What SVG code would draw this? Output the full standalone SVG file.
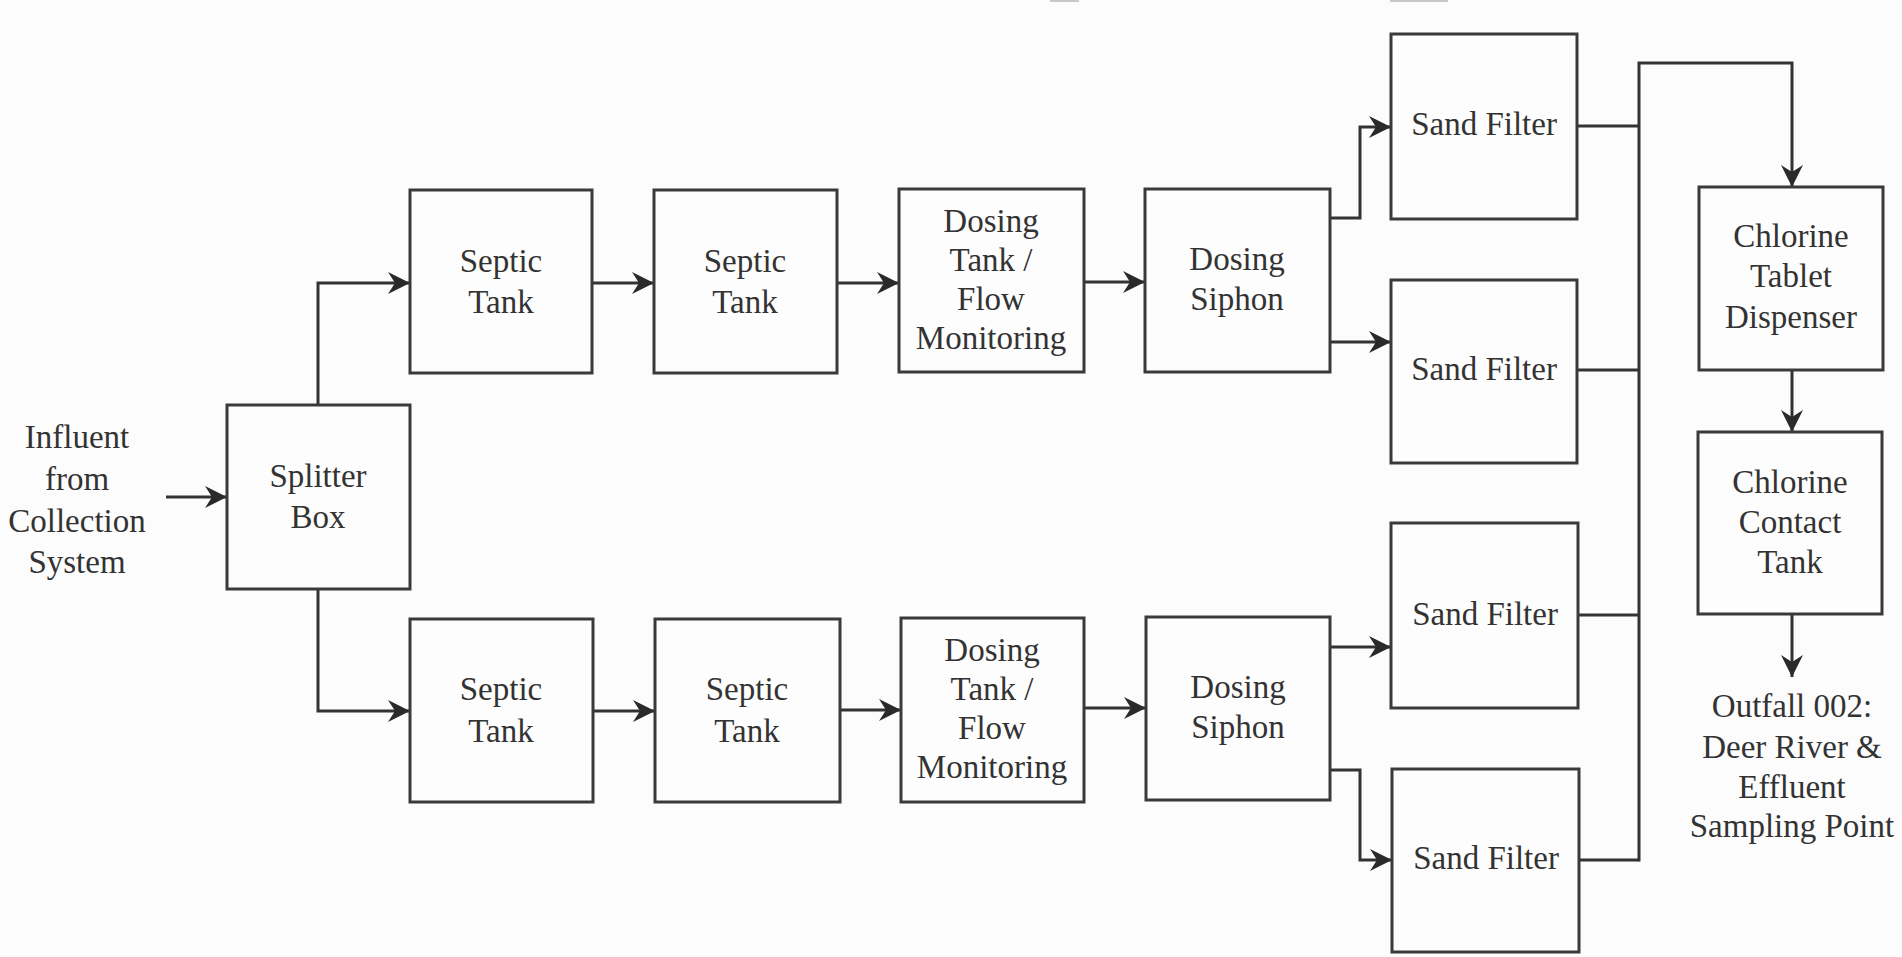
<svg xmlns="http://www.w3.org/2000/svg" width="1902" height="957" viewBox="0 0 1902 957">
<style>
.box{fill:#fdfdfd;stroke:#3a3a3a;stroke-width:3}
.lbl{font-family:"Liberation Serif","Times New Roman",serif;font-size:33px;fill:#333;text-anchor:middle}
.con{fill:none;stroke:#333;stroke-width:3}
.arr{fill:none;stroke:#333;stroke-width:3;marker-end:url(#ah)}
</style>
<defs>
<marker id="ah" markerUnits="userSpaceOnUse" markerWidth="26" markerHeight="26" viewBox="-24 -13 26 26" refX="0" refY="0" orient="auto">
<path d="M0,0 L-22,-11 L-15,0 L-22,11 Z" fill="#2a2a2a"/>
</marker>
</defs>
<rect width="1902" height="957" fill="#fcfcfc"/>
<rect x="1050" y="0" width="29" height="2" fill="#c8c8c8"/>
<rect x="1390" y="0" width="58" height="2" fill="#c8c8c8"/>
<g id="connectors">
<path class="arr" d="M166,497 H227"/>
<path class="arr" d="M318,405 V283 H410"/>
<path class="arr" d="M318,589 V711 H410"/>
<path class="arr" d="M592,283 H654"/>
<path class="arr" d="M837,283 H899"/>
<path class="arr" d="M1084,282 H1145"/>
<path class="arr" d="M1330,218 H1360 V127 H1391"/>
<path class="arr" d="M1330,342 H1391"/>
<path class="arr" d="M593,711 H655"/>
<path class="arr" d="M840,710 H901"/>
<path class="arr" d="M1084,708 H1146"/>
<path class="arr" d="M1330,647 H1391"/>
<path class="arr" d="M1330,770 H1360 V860 H1392"/>
<path class="con" d="M1577,126 H1639"/>
<path class="con" d="M1577,370 H1639"/>
<path class="con" d="M1578,615 H1639"/>
<path class="con" d="M1579,860 H1639"/>
<path class="arr" d="M1639,861.5 V63 H1792 V187"/>
<path class="arr" d="M1792,370 V432"/>
<path class="arr" d="M1792,614 V677"/>
</g>
<g id="influent">
<text class="lbl" x="77" y="448">Influent</text>
<text class="lbl" x="77" y="490">from</text>
<text class="lbl" x="77" y="532">Collection</text>
<text class="lbl" x="77" y="573">System</text>
</g>
<g id="splitter">
<rect class="box" x="227" y="405" width="183" height="184"/>
<text class="lbl" x="318" y="487">Splitter</text>
<text class="lbl" x="318" y="528">Box</text>
</g>
<g id="septic1">
<rect class="box" x="410" y="190" width="182" height="183"/>
<text class="lbl" x="501" y="272">Septic</text>
<text class="lbl" x="501" y="313">Tank</text>
</g>
<g id="septic2">
<rect class="box" x="654" y="190" width="183" height="183"/>
<text class="lbl" x="745" y="272">Septic</text>
<text class="lbl" x="745" y="313">Tank</text>
</g>
<g id="dosing1">
<rect class="box" x="899" y="189" width="185" height="183"/>
<text class="lbl" x="991" y="232">Dosing</text>
<text class="lbl" x="991" y="271">Tank /</text>
<text class="lbl" x="991" y="310">Flow</text>
<text class="lbl" x="991" y="349">Monitoring</text>
</g>
<g id="siphon1">
<rect class="box" x="1145" y="189" width="185" height="183"/>
<text class="lbl" x="1237" y="270">Dosing</text>
<text class="lbl" x="1237" y="310">Siphon</text>
</g>
<g id="septic3">
<rect class="box" x="410" y="619" width="183" height="183"/>
<text class="lbl" x="501" y="700">Septic</text>
<text class="lbl" x="501" y="742">Tank</text>
</g>
<g id="septic4">
<rect class="box" x="655" y="619" width="185" height="183"/>
<text class="lbl" x="747" y="700">Septic</text>
<text class="lbl" x="747" y="742">Tank</text>
</g>
<g id="dosing2">
<rect class="box" x="901" y="618" width="183" height="184"/>
<text class="lbl" x="992" y="661">Dosing</text>
<text class="lbl" x="992" y="700">Tank /</text>
<text class="lbl" x="992" y="739">Flow</text>
<text class="lbl" x="992" y="778">Monitoring</text>
</g>
<g id="siphon2">
<rect class="box" x="1146" y="617" width="184" height="183"/>
<text class="lbl" x="1238" y="698">Dosing</text>
<text class="lbl" x="1238" y="738">Siphon</text>
</g>
<g id="sand1">
<rect class="box" x="1391" y="34" width="186" height="185"/>
<text class="lbl" x="1484" y="135">Sand Filter</text>
</g>
<g id="sand2">
<rect class="box" x="1391" y="280" width="186" height="183"/>
<text class="lbl" x="1484" y="380">Sand Filter</text>
</g>
<g id="sand3">
<rect class="box" x="1391" y="523" width="187" height="185"/>
<text class="lbl" x="1485" y="625">Sand Filter</text>
</g>
<g id="sand4">
<rect class="box" x="1392" y="769" width="187" height="183"/>
<text class="lbl" x="1486" y="869">Sand Filter</text>
</g>
<g id="tablet">
<rect class="box" x="1699" y="187" width="184" height="183"/>
<text class="lbl" x="1791" y="247">Chlorine</text>
<text class="lbl" x="1791" y="287">Tablet</text>
<text class="lbl" x="1791" y="328">Dispenser</text>
</g>
<g id="contact">
<rect class="box" x="1698" y="432" width="184" height="182"/>
<text class="lbl" x="1790" y="493">Chlorine</text>
<text class="lbl" x="1790" y="533">Contact</text>
<text class="lbl" x="1790" y="573">Tank</text>
</g>
<g id="outfall">
<text class="lbl" x="1792" y="717">Outfall 002:</text>
<text class="lbl" x="1792" y="758">Deer River &amp;</text>
<text class="lbl" x="1792" y="798">Effluent</text>
<text class="lbl" x="1792" y="837">Sampling Point</text>
</g>
</svg>
